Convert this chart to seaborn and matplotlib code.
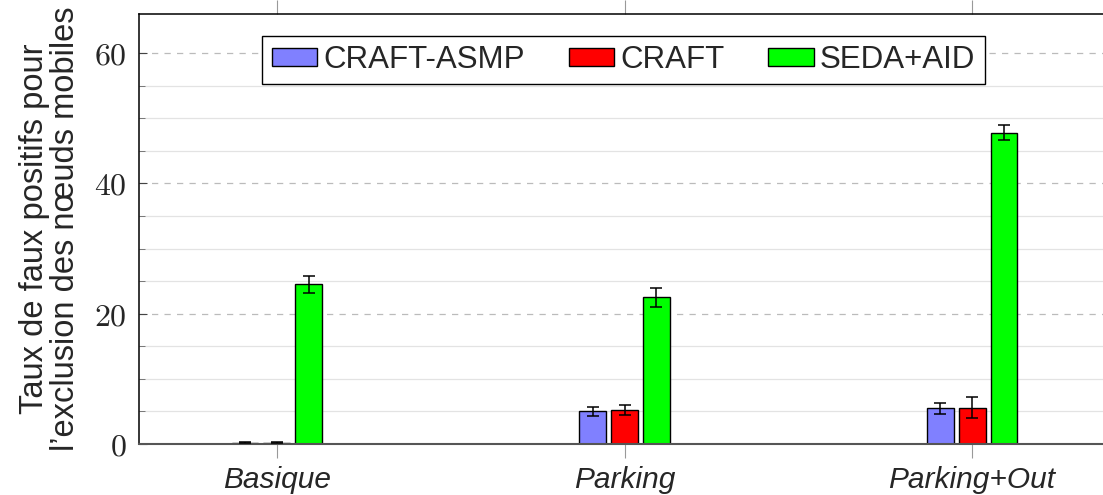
import pandas as pd
import numpy as np
import matplotlib.pyplot as plt
import seaborn as sns
from matplotlib.ticker import FixedLocator, FuncFormatter

# Data
scenarios = ['Basique', 'Parking', 'Parking+Out']
methods = ['CRAFT-ASMP', 'CRAFT', 'SEDA+AID']
craft_asmp = [0.2, 5.0, 5.5]
craft = [0.2, 5.2, 5.6]
seda_aid = [24.5, 22.5, 47.8]
craft_asmp_err = [0.1, 0.65, 0.85]
craft_err = [0.1, 0.75, 1.55]
seda_aid_err = [1.3, 1.5, 1.2]
colors = ['#8080ff', '#ff0000', '#00ff00']

# Long format table for seaborn
df = pd.DataFrame({
    'scenario': scenarios * 3,
    'method': [m for m in methods for _ in scenarios],
    'value': craft_asmp + craft + seda_aid,
    'err': craft_asmp_err + craft_err + seda_aid_err,
})

sns.set_style('white')
plt.rcParams['font.family'] = ['Liberation Sans', 'DejaVu Sans']
plt.rcParams['mathtext.fontset'] = 'cm'

fig = plt.figure(figsize=(11.03, 4.95), dpi=100)
ax = fig.add_axes([139 / 1103, 51 / 495, 971 / 1103, 430 / 495])

sns.barplot(data=df, x='scenario', y='value', hue='method', order=scenarios,
            hue_order=methods, palette=colors, width=0.276, gap=0.156,
            edgecolor='black', linewidth=1, errorbar=None, saturation=1, ax=ax)

# error bars on top of each bar
for container, m in zip(ax.containers, methods):
    sub = df[df['method'] == m].set_index('scenario').loc[scenarios]
    xs = [p.get_x() + p.get_width() / 2 for p in container.patches]
    ax.errorbar(xs, sub['value'], yerr=sub['err'], fmt='none', ecolor='black',
                elinewidth=1.1, capsize=4, capthick=1.1, zorder=5)

ax.set_xlim(-0.397, 2.397)
ax.set_ylim(0, 66)

# grid
ax.set_yticks([0, 20, 40, 60])
ax.yaxis.set_minor_locator(FixedLocator([v for v in range(5, 60, 5) if v % 20 != 0]))
ax.yaxis.set_major_formatter(FuncFormatter(lambda v, p: f'${v:g}$'))
ax.grid(which='major', axis='y', color='#bbbbbb', linestyle=(0, (5, 5)), linewidth=0.9)
ax.grid(which='minor', axis='y', color='#e3e3e3', linestyle='-', linewidth=0.9)
ax.set_axisbelow(True)

ax.tick_params(axis='y', which='major', direction='in', length=6, color='#444444',
               labelsize=23, pad=9, left=True)
ax.tick_params(axis='y', which='minor', direction='in', length=4, color='#666666', left=True)
ax.tick_params(axis='x', direction='out', length=10, color='#999999', top=True,
               bottom=True, labelsize=21.5, pad=6)
for lbl in ax.get_xticklabels():
    lbl.set_fontstyle('italic')

ax.set_xlabel('')
ax.set_ylabel('Taux de faux positifs pour\nl\u2019exclusion des n\u0153uds mobiles',
              fontsize=23.5, labelpad=9, linespacing=1.0)

for s in ['top', 'left']:
    ax.spines[s].set_color('black')
    ax.spines[s].set_linewidth(1.1)
ax.spines['bottom'].set_color('#555555')
ax.spines['bottom'].set_linewidth(1.5)
ax.spines['right'].set_visible(False)

leg = ax.legend(loc='upper center', bbox_to_anchor=(0.499, 0.95), ncol=3,
                fontsize=22.5, frameon=True, fancybox=False, edgecolor='black',
                handlelength=1.45, handleheight=0.5, handletextpad=0.2,
                columnspacing=1.4, borderpad=0.3, borderaxespad=0)
leg.get_frame().set_linewidth(1)
leg.get_frame().set_alpha(1)

fig.savefig('out.png', dpi=100)
